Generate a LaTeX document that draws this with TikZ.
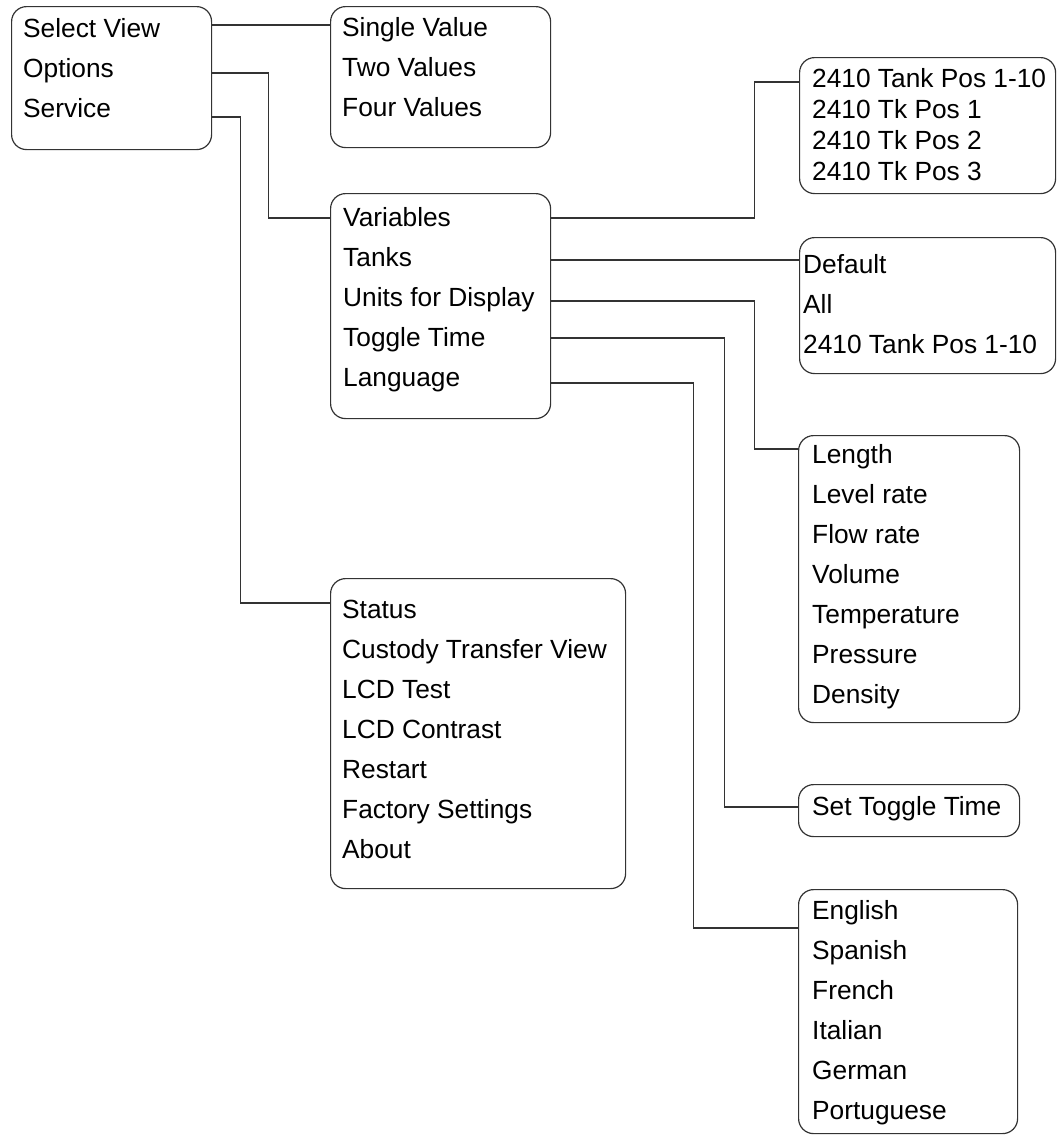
\documentclass[tikz,border=0pt]{standalone}
\usepackage{fontspec}
\setmainfont{Liberation Sans}
\usetikzlibrary{calc}
\begin{document}
\begin{tikzpicture}[x=1pt,y=-1pt,
  menubox/.style={draw=black!80,line width=1.2pt,rounded corners=15pt,
                  anchor=north west,inner sep=0pt},
  item/.style={anchor=base west,inner sep=0pt,text height=16pt,text depth=0pt,
               font=\fontsize{26.3}{30}\selectfont,text=black},
  link/.style={draw=black!80,line width=1.2pt}]
  \useasboundingbox (0,0) rectangle (1058,1136);
  % boxes
  \node[menubox,minimum width=200pt,minimum height=143pt] (main)    at (11,6)    {};
  \node[menubox,minimum width=220pt,minimum height=141pt] (views)   at (330,6)   {};
  \node[menubox,minimum width=220pt,minimum height=225pt] (options) at (330,193) {};
  \node[menubox,minimum width=256pt,minimum height=136pt] (tankpos) at (799,57)  {};
  \node[menubox,minimum width=256pt,minimum height=136pt] (tanks)   at (799,237) {};
  \node[menubox,minimum width=221pt,minimum height=287pt] (units)   at (798,435) {};
  \node[menubox,minimum width=221pt,minimum height=52pt]  (toggle)  at (798,784) {};
  \node[menubox,minimum width=219pt,minimum height=244pt] (lang)    at (798,889) {};
  \node[menubox,minimum width=295pt,minimum height=310pt] (service) at (330,578) {};
  % menu entries
  \foreach \lbl [count=\i] in {Select View,Options,Service}
    \node[item] (m\i) at (23,{37+40*(\i-1)}) {\lbl};
  \foreach \lbl [count=\i] in {Single Value,Two Values,Four Values}
    \node[item] (v\i) at (342,{36+40*(\i-1)}) {\lbl};
  \foreach \lbl [count=\i] in {Variables,Tanks,Units for Display,Toggle Time,Language}
    \node[item] (o\i) at (343,{226+40*(\i-1)}) {\lbl};
  \foreach \lbl [count=\i] in {2410 Tank Pos 1-10,2410 Tk Pos 1,2410 Tk Pos 2,2410 Tk Pos 3}
    \node[item] (t\i) at (812,{87+31.3*(\i-1)}) {\lbl};
  \foreach \lbl [count=\i] in {Default,All,2410 Tank Pos 1-10}
    \node[item] (k\i) at (803,{273+40*(\i-1)}) {\lbl};
  \foreach \lbl [count=\i] in {Length,Level rate,Flow rate,Volume,Temperature,Pressure,Density}
    \node[item] (u\i) at (812,{463+40*(\i-1)}) {\lbl};
  \node[item] (g1) at (812,815) {Set Toggle Time};
  \foreach \lbl [count=\i] in {English,Spanish,French,Italian,German,Portuguese}
    \node[item] (l\i) at (812,{919+40*(\i-1)}) {\lbl};
  \foreach \lbl [count=\i] in {Status,Custody Transfer View,LCD Test,LCD Contrast,Restart,Factory Settings,About}
    \node[item] (s\i) at (342,{618+40*(\i-1)}) {\lbl};
  % links
  \draw[link] ($(main.east |- m1)+(0,-4)$) -- ($(views.west |- m1)+(0,-4)$);
  \draw[link] ($(main.east |- m2)+(0,4)$) -- ++(56,0) |- (options.west |- o1);
  \draw[link] ($(main.east |- m3)+(0,8)$) -- ++(28,0) |- ($(service.west |- s1)+(0,-7)$);
  \draw[link] (options.east |- o1) -- ++(203,0) |- ($(tankpos.west |- t1)+(0,3)$);
  \draw[link] ($(options.east |- o2)+(0,2)$) -- ($(tanks.west |- o2)+(0,2)$);
  \draw[link] ($(options.east |- o3)+(0,3)$) -- ++(203,0) |- ($(units.west |- u1)+(0,-6)$);
  \draw[link] (options.east |- o4) -- ++(173,0) |- (toggle.west |- g1);
  \draw[link] ($(options.east |- o5)+(0,5)$) -- ++(142,0) |- ($(lang.west |- l1)+(0,17)$);
\end{tikzpicture}
\end{document}
